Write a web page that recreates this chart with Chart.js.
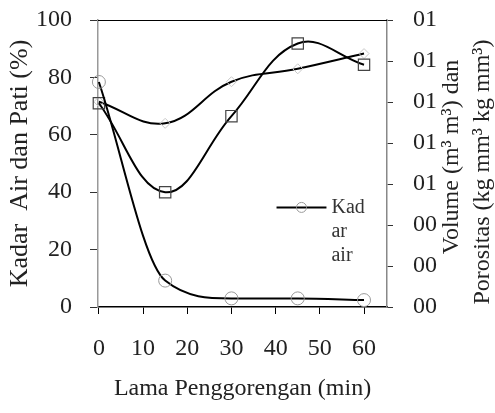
<!DOCTYPE html>
<html>
<head>
<meta charset="utf-8">
<script src="https://cdn.jsdelivr.net/npm/chart.js@4/dist/chart.umd.min.js"></script>
<style>
html,body{margin:0;padding:0;background:#fff;}
#wrap{width:495px;height:413px;position:relative;}
</style>
</head>
<body>
<div id="wrap"><canvas id="c" width="495" height="413"></canvas></div>
<script>
const minutes = [0, 15, 30, 45, 60];
const kadarAir = [78.4, 9.2, 3.0, 3.0, 2.4];
const kadarPati = [71, 40, 66.5, 91.8, 84.4];
const volume = [71.5, 64, 78.5, 83, 88.3];
const xTicks = [0, 10, 20, 30, 40, 50, 60];
const yTicks = [0, 20, 40, 60, 80, 100];
const y2Ticks = [0, 1, 2, 3, 4, 5, 6, 7];
const y2Labels = ['00', '00', '00', '01', '01', '01', '01', '01'];
const legendLines = ['Kad', 'ar', 'air'];
const rightTitle = ['Volume (m\u00B3 m\u00B3) dan', 'Porositas (kg mm\u00B3 kg mm\u00B3)'];

const SERIF = '"Liberation Serif", "DejaVu Serif", serif';

const pts = arr => minutes.map((m, i) => ({x: m, y: arr[i]}));

const noPad = s => { s.paddingTop = 0; s.paddingBottom = 0; s.paddingLeft = 0; s.paddingRight = 0; };

const extras = {
  id: 'extras',
  afterDraw(chart) {
    const {ctx, chartArea: a, scales} = chart;
    ctx.save();
    // top border
    ctx.strokeStyle = '#000';
    ctx.lineWidth = 1;
    ctx.beginPath();
    ctx.moveTo(a.left, a.top + 0.5);
    ctx.lineTo(a.right, a.top + 0.5);
    ctx.stroke();
    // legend inside plot
    const ds = chart.data.datasets[0];
    const ly = scales.y.getPixelForValue(34.7);
    const lx0 = scales.x.getPixelForValue(40.2);
    const lx1 = scales.x.getPixelForValue(51.5);
    ctx.strokeStyle = ds.borderColor;
    ctx.lineWidth = ds.borderWidth;
    ctx.beginPath();
    ctx.moveTo(lx0, ly);
    ctx.lineTo(lx1, ly);
    ctx.stroke();
    ctx.strokeStyle = ds.pointBorderColor;
    ctx.lineWidth = 1;
    ctx.beginPath();
    ctx.arc((lx0 + lx1) / 2, ly, 5, 0, Math.PI * 2);
    ctx.stroke();
    ctx.fillStyle = '#333';
    ctx.font = '20px ' + SERIF;
    ctx.textBaseline = 'middle';
    ctx.textAlign = 'left';
    legendLines.forEach((t, i) => ctx.fillText(t, lx1 + 5, ly + i * 24));
    // right axis title, reading bottom to top
    ctx.fillStyle = '#222';
    ctx.font = '24px ' + SERIF;
    ctx.textAlign = 'center';
    const centers = [[452, 157], [483, 172]];
    rightTitle.forEach((t, i) => {
      ctx.save();
      ctx.translate(centers[i][0], centers[i][1]);
      ctx.rotate(-Math.PI / 2);
      ctx.fillText(t, 0, 0);
      ctx.restore();
    });
    ctx.restore();
  }
};

new Chart(document.getElementById('c'), {
  type: 'line',
  data: {
    datasets: [
      {
        label: 'Kadar air',
        data: pts(kadarAir),
        borderColor: '#000',
        borderWidth: 2,
        cubicInterpolationMode: 'monotone',
        pointStyle: 'circle',
        pointRadius: 6.5,
        pointBorderColor: '#999',
        pointBackgroundColor: 'rgba(0,0,0,0)',
        pointBorderWidth: 1,
        clip: false
      },
      {
        label: 'Kadar pati',
        data: pts(kadarPati),
        borderColor: '#000',
        borderWidth: 2,
        tension: 0.4,
        pointStyle: 'rect',
        pointRadius: 8,
        pointBorderColor: '#444',
        pointBackgroundColor: 'rgba(0,0,0,0)',
        pointBorderWidth: 1.2,
        clip: false
      },
      {
        label: 'Volume',
        data: pts(volume),
        borderColor: '#000',
        borderWidth: 2,
        tension: 0.4,
        pointStyle: 'rectRot',
        pointRadius: 5,
        pointBorderColor: '#c8c8c8',
        pointBackgroundColor: 'rgba(0,0,0,0)',
        pointBorderWidth: 1,
        clip: false
      }
    ]
  },
  options: {
    responsive: false,
    animation: false,
    events: [],
    layout: {padding: {top: 20, left: 0, right: 0, bottom: 0}},
    plugins: {legend: {display: false}, tooltip: {enabled: false}},
    scales: {
      x: {
        type: 'linear',
        min: -0.2,
        max: 65.2,
        afterBuildTicks: s => { s.ticks = xTicks.map(v => ({value: v})); },
        afterFit: s => { s.height = 106; noPad(s); },
        grid: {drawOnChartArea: false, drawTicks: true, tickLength: 7, color: '#000'},
        border: {color: '#000', width: 1.5},
        ticks: {color: '#222', font: {family: SERIF, size: 24}, padding: 20, maxRotation: 0,
                callback: v => String(v)},
        title: {display: true, text: 'Lama Penggorengan (min)', color: '#222',
                font: {family: SERIF, size: 24}, padding: {top: 0, bottom: 10}}
      },
      y: {
        type: 'linear',
        position: 'left',
        min: 0,
        max: 100,
        afterBuildTicks: s => { s.ticks = yTicks.map(v => ({value: v})); },
        afterFit: s => { s.width = 98; noPad(s); },
        grid: {drawOnChartArea: false, drawTicks: true, tickLength: 8, color: '#333'},
        border: {color: '#999', width: 1.5},
        ticks: {color: '#222', font: {family: SERIF, size: 24}, padding: 18,
                callback: v => String(v)},
        title: {display: true, text: 'Kadar  Air dan Pati (%)', color: '#222',
                font: {family: SERIF, size: 26}, padding: {top: 5, bottom: 0}}
      },
      y2: {
        type: 'linear',
        position: 'right',
        min: 0,
        max: 7,
        afterBuildTicks: s => { s.ticks = y2Ticks.map(v => ({value: v})); },
        afterFit: s => { s.width = 108; noPad(s); },
        grid: {drawOnChartArea: false, drawTicks: true, tickLength: 6, color: '#333'},
        border: {color: '#888', width: 1.5},
        ticks: {color: '#222', font: {family: SERIF, size: 24}, padding: 20,
                callback: (v, i) => y2Labels[i]}
      }
    }
  },
  plugins: [extras]
});
</script>
</body>
</html>
